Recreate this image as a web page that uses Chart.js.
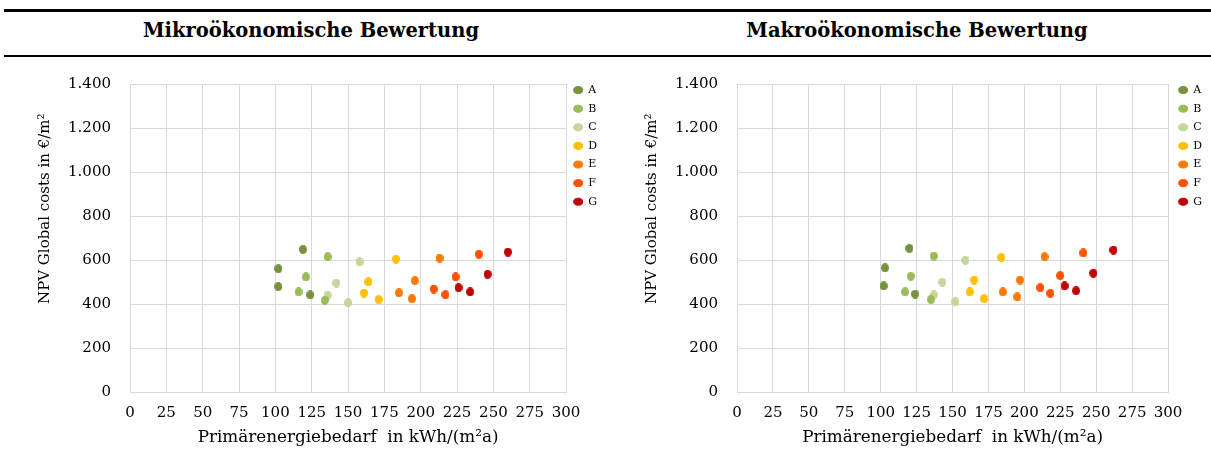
<!DOCTYPE html>
<html>
<head>
<meta charset="utf-8">
<script src="https://cdn.jsdelivr.net/npm/chart.js@4.4.1/dist/chart.umd.min.js"></script>
<style>
  body { margin: 0; width: 1211px; height: 454px; background: #fff; position: relative; overflow: hidden; font-family: "DejaVu Serif", serif; }
  .rule { position: absolute; left: 4px; right: 0; background: #000; }
  .head { position: absolute; top: 20px; line-height: 22px; font-size: 19.5px; font-weight: bold; white-space: nowrap; transform: translateX(-50%); }
  .box { position: absolute; top: 60px; height: 394px; }
</style>
</head>
<body>
<div class="rule" style="top:9px;height:3px"></div>
<div class="rule" style="top:55px;height:2px"></div>
<div class="head" style="left:311px">Mikroökonomische Bewertung</div>
<div class="head" style="left:917px">Makroökonomische Bewertung</div>
<div class="box" style="left:0;width:620px"><canvas id="mikro"></canvas></div>
<div class="box" style="left:607px;width:604px"><canvas id="makro"></canvas></div>

<script>
const variants = ['A', 'B', 'C', 'D', 'E', 'F', 'G'];
const colors = ['#76923C', '#9BBB59', '#C3D69B', '#FFC000', '#F97A00', '#FF5100', '#C00000'];

// [Primärenergiebedarf, NPV] pairs per variant
const mikroA = [[119, 648], [102, 560], [102, 479], [124, 441]];
const mikroB = [[136, 615], [121, 523], [116, 455], [134, 417]];
const mikroC = [[158, 591], [142, 495], [136, 440], [150, 406]];
const mikroD = [[183, 604], [164, 501], [161, 450], [171, 420]];
const mikroE = [[213, 608], [196, 506], [185, 451], [194, 424]];
const mikroF = [[240, 626], [224, 523], [209, 468], [217, 442]];
const mikroG = [[260, 636], [246, 535], [226, 474], [234, 455]];

const makroA = [[120, 653], [103, 564], [102, 482], [124, 445]];
const makroB = [[137, 618], [121, 526], [117, 455], [135, 420]];
const makroC = [[159, 599], [143, 499], [137, 441], [152, 410]];
const makroD = [[184, 612], [165, 509], [162, 455], [172, 424]];
const makroE = [[214, 615], [197, 509], [185, 455], [195, 432]];
const makroF = [[241, 632], [225, 529], [211, 474], [218, 449]];
const makroG = [[262, 645], [248, 540], [228, 482], [236, 460]];

const xTitle = 'Primärenergiebedarf  in kWh/(m²a)';
const yTitle = 'NPV Global costs in €/m²';

const FONT = "'DejaVu Serif', serif";
const GRID = '#D9D9D9';

// slightly tall oval marker
function dot(color) {
    const c = document.createElement('canvas');
    c.width = 8; c.height = 9;
    const g = c.getContext('2d');
    g.fillStyle = color;
    g.beginPath();
    g.ellipse(4, 4.5, 4, 4.5, 0, 0, Math.PI * 2);
    g.fill();
    return c;
}

function thousands(v) {
    return String(v).replace(/\B(?=(\d{3})+(?!\d))/g, '.');
}

// moves the legend block next to the plot area
const legendNudge = {
    id: 'legendNudge',
    afterLayout(chart, args, opts) {
        chart.legend.left = chart.chartArea.right + opts.dx;
        chart.legend.top = chart.chartArea.top + opts.dy;
    }
};

// vertical axis title, sitting a bit above the middle of the plot
const yTitleDraw = {
    id: 'yTitleDraw',
    afterDraw(chart, args, opts) {
        const { ctx, chartArea } = chart;
        ctx.save();
        ctx.translate(opts.x, chartArea.top + (chartArea.bottom - chartArea.top) * opts.at);
        ctx.rotate(-Math.PI / 2);
        ctx.font = '15px ' + FONT;
        ctx.fillStyle = '#000';
        ctx.textAlign = 'center';
        ctx.textBaseline = 'middle';
        ctx.fillText(opts.text, 0, 0);
        ctx.restore();
    }
};

function makeChart(id, series, padRight, dx) {
    const datasets = series.map((pts, i) => ({
        label: variants[i],
        data: pts.map(p => ({ x: p[0], y: p[1] })),
        backgroundColor: colors[i],
        borderColor: colors[i],
        pointStyle: dot(colors[i]),
        pointRadius: 4.5
    }));

    return new Chart(document.getElementById(id), {
        type: 'scatter',
        data: { datasets },
        plugins: [legendNudge, yTitleDraw],
        options: {
            responsive: true,
            maintainAspectRatio: false,
            animation: false,
            events: [],
            layout: { padding: { top: 24, right: padRight, bottom: 0, left: 0 } },
            plugins: {
                tooltip: { enabled: false },
                legendNudge: { dx: dx, dy: -7 },
                yTitleDraw: { text: yTitle, x: 45, at: 0.405 },
                legend: {
                    position: 'right',
                    align: 'start',
                    labels: {
                        usePointStyle: true,
                        pointStyle: 'circle',
                        pointStyleWidth: 9,
                        boxHeight: 5,
                        padding: 7.6,
                        color: '#000',
                        font: { family: FONT, size: 11 }
                    }
                }
            },
            scales: {
                x: {
                    type: 'linear',
                    position: 'bottom',
                    min: 0, max: 300,
                    ticks: { stepSize: 25, padding: 12, color: '#000', font: { family: FONT, size: 15 }, maxRotation: 0 },
                    grid: { color: GRID, drawTicks: false },
                    border: { color: GRID },
                    title: { display: true, text: xTitle, color: '#000', font: { family: FONT, size: 16.8 }, padding: { top: 0, bottom: 6 } },
                    afterFit: s => { s.height = 62; }
                },
                y: {
                    min: 0, max: 1400,
                    ticks: { stepSize: 200, padding: 19, color: '#000', font: { family: FONT, size: 15 }, callback: v => thousands(v) },
                    grid: { color: GRID, drawTicks: false },
                    border: { color: GRID },
                    afterFit: s => { s.width = 130; s.paddingTop = 0; }
                }
            }
        }
    });
}

makeChart('mikro', [mikroA, mikroB, mikroC, mikroD, mikroE, mikroF, mikroG], 13, 0);
makeChart('makro', [makroA, makroB, makroC, makroD, makroE, makroF, makroG], 2, 3);
</script>
</body>
</html>
